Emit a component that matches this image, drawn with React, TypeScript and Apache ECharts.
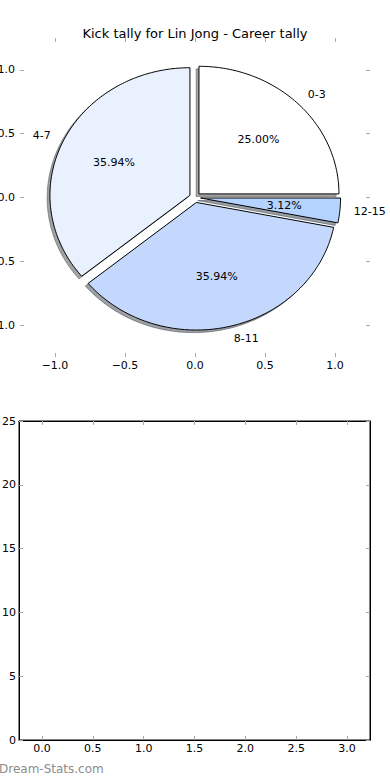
import React, { useEffect, useRef } from "react";
import * as echarts from "echarts";

const title = "Kick tally for Lin Jong - Career tally";
const categories = ["0-3", "4-7", "8-11", "12-15"];
const kicks = [16, 23, 23, 2];
const sliceColors = ["#ffffff", "#eaf1fe", "#c4d8fd", "#b4d3ff"];
const pieTicks = [-1, -0.5, 0, 0.5, 1];
const barXTicks = [0, 0.5, 1, 1.5, 2, 2.5, 3];
const watermark = "Dream-Stats.com";

const EXPLODE = 0.04;
const FONT = "DejaVu Sans";

function fmt1(v: number) {
  const s = Math.abs(v).toFixed(1);
  return v < 0 ? "\u2212" + s : s;
}

// Python-style "%.2f%%" of a fraction (round half to even on exact halves)
function pct2(frac: number) {
  const y = frac * 10000;
  const f = Math.floor(y);
  let r: number;
  if (Math.abs(y - f - 0.5) < 1e-9) r = f % 2 === 0 ? f : f + 1;
  else r = Math.round(y);
  return (r / 100).toFixed(2) + "%";
}

export default function App() {
  const ref = useRef<HTMLDivElement>(null);
  useEffect(() => {
    if (!ref.current) return;
    const chart = echarts.init(ref.current, undefined, { renderer: "svg" });
    const total = kicks.reduce((a, b) => a + b, 0);
    const cum: number[] = [0];
    kicks.forEach((v, i) => cum.push(cum[i] + v));

    const wedgePoints = (i: number, api: any, ox: number, oy: number) => {
      const start = (cum[i] / total) * Math.PI * 2;
      const end = (cum[i + 1] / total) * Math.PI * 2;
      const mid = (start + end) / 2;
      const cx = EXPLODE * Math.cos(mid) + ox;
      const cy = EXPLODE * Math.sin(mid) + oy;
      const pts: number[][] = [api.coord([cx, cy])];
      const n = Math.max(3, Math.ceil(((end - start) * 180) / Math.PI));
      for (let k = 0; k <= n; k++) {
        const a = start + ((end - start) * k) / n;
        pts.push(api.coord([cx + Math.cos(a), cy + Math.sin(a)]));
      }
      return { pts, mid };
    };

    const shadowColor = (hex: string) => {
      const r = parseInt(hex.slice(1, 3), 16) * 0.3;
      const g = parseInt(hex.slice(3, 5), 16) * 0.3;
      const b = parseInt(hex.slice(5, 7), 16) * 0.3;
      return `rgba(${r.toFixed(0)},${g.toFixed(0)},${b.toFixed(0)},0.5)`;
    };

    const tickStyle = { lineStyle: { color: "#a8a8a8", width: 1 }, length: 4, inside: true };
    const labelStyle = { color: "#000", fontSize: 11, fontFamily: FONT };
    const hiddenLine = { show: false, onZero: false };
    const blackLine = { show: true, onZero: false, lineStyle: { color: "#000", width: 1 } };

    const option: any = {
      animation: false,
      backgroundColor: "#fff",
      title: {
        text: title,
        left: "center",
        top: 22,
        textStyle: { fontSize: 13, fontWeight: "normal", fontFamily: FONT, color: "#000" },
      },
      grid: [
        { left: 20, width: 350, top: 38, height: 319, show: false, containLabel: false, outerBoundsMode: "none" },
        {
          left: 19, width: 351, top: 421, height: 319, show: true, borderColor: "#000", borderWidth: 1,
          backgroundColor: "#fff", containLabel: false, outerBoundsMode: "none",
        },
      ],
      xAxis: [
        {
          type: "value", gridIndex: 0, min: -1.25, max: 1.25, position: "bottom",
          axisLine: hiddenLine, splitLine: { show: false },
          axisTick: { show: true, ...tickStyle, customValues: pieTicks },
          axisLabel: { ...labelStyle, margin: 3, customValues: pieTicks, formatter: (v: number) => fmt1(v) },
        },
        {
          type: "value", gridIndex: 0, min: -1.25, max: 1.25, position: "top",
          axisLine: hiddenLine, splitLine: { show: false },
          axisTick: { show: true, ...tickStyle, customValues: pieTicks },
          axisLabel: { show: false },
        },
        {
          type: "value", gridIndex: 1, min: -0.225, max: 3.225, position: "bottom",
          axisLine: blackLine, splitLine: { show: false },
          axisTick: { show: true, ...tickStyle, customValues: barXTicks },
          axisLabel: { ...labelStyle, margin: 3, customValues: barXTicks, formatter: (v: number) => fmt1(v) },
        },
        {
          type: "value", gridIndex: 1, min: -0.225, max: 3.225, position: "top",
          axisLine: blackLine, splitLine: { show: false },
          axisTick: { show: true, ...tickStyle, customValues: barXTicks },
          axisLabel: { show: false },
        },
      ],
      yAxis: [
        {
          type: "value", gridIndex: 0, min: -1.25, max: 1.25, position: "left",
          axisLine: hiddenLine, splitLine: { show: false },
          axisTick: { show: true, ...tickStyle, customValues: pieTicks },
          axisLabel: { ...labelStyle, margin: 5, customValues: pieTicks, formatter: (v: number) => fmt1(v) },
        },
        {
          type: "value", gridIndex: 0, min: -1.25, max: 1.25, position: "right",
          axisLine: hiddenLine, splitLine: { show: false },
          axisTick: { show: true, ...tickStyle, customValues: pieTicks },
          axisLabel: { show: false },
        },
        {
          type: "value", gridIndex: 1, min: 0, max: 25, interval: 5, position: "left",
          axisLine: blackLine, splitLine: { show: false },
          axisTick: { show: true, ...tickStyle },
          axisLabel: { ...labelStyle, margin: 3 },
        },
        {
          type: "value", gridIndex: 1, min: 0, max: 25, interval: 5, position: "right",
          axisLine: blackLine, splitLine: { show: false },
          axisTick: { show: true, ...tickStyle },
          axisLabel: { show: false },
        },
      ],
      series: [
        {
          type: "custom",
          name: "shadow",
          xAxisIndex: 0,
          yAxisIndex: 0,
          clip: false,
          z: 1,
          data: kicks.map((v, i) => [i, v]),
          renderItem: (params: any, api: any) => {
            const i = params.dataIndex;
            const { pts } = wedgePoints(i, api, -0.02, -0.02);
            const c = shadowColor(sliceColors[i]);
            return {
              type: "polygon",
              shape: { points: pts },
              style: { fill: c, stroke: c, lineWidth: 1 },
            };
          },
        },
        {
          type: "custom",
          name: "kicks",
          xAxisIndex: 0,
          yAxisIndex: 0,
          clip: false,
          z: 2,
          data: kicks.map((v, i) => [i, v]),
          renderItem: (params: any, api: any) => {
            const i = params.dataIndex;
            const { pts, mid } = wedgePoints(i, api, 0, 0);
            const ex = EXPLODE * Math.cos(mid);
            const ey = EXPLODE * Math.sin(mid);
            const lx = ex + 1.1 * Math.cos(mid);
            const ly = ey + 1.1 * Math.sin(mid);
            const lp = api.coord([lx, ly]);
            const pp = api.coord([ex + 0.6 * Math.cos(mid), ey + 0.6 * Math.sin(mid)]);
            return {
              type: "group",
              children: [
                {
                  type: "polygon",
                  shape: { points: pts },
                  style: { fill: sliceColors[i], stroke: "#000", lineWidth: 1 },
                },
                {
                  type: "text",
                  x: lp[0],
                  y: lp[1],
                  style: {
                    text: categories[i],
                    fill: "#000",
                    font: `11px "${FONT}"`,
                    align: lx > 0 ? "left" : "right",
                    verticalAlign: "middle",
                  },
                },
                {
                  type: "text",
                  x: pp[0],
                  y: pp[1],
                  style: {
                    text: pct2(kicks[i] / total),
                    fill: "#000",
                    font: `11px "${FONT}"`,
                    align: "center",
                    verticalAlign: "middle",
                  },
                },
              ],
            };
          },
        },
      ],
      graphic: [
        {
          type: "text",
          left: -1,
          top: 763,
          style: { text: watermark, fill: "#8c8c8c", font: `12px "${FONT}"` },
        },
      ],
    };
    chart.setOption(option);
    return () => chart.dispose();
  }, []);
  return (
    <div
      ref={ref}
      style={{ position: "absolute", left: 0, top: 0, width: 390, height: 780 }}
    />
  );
}
